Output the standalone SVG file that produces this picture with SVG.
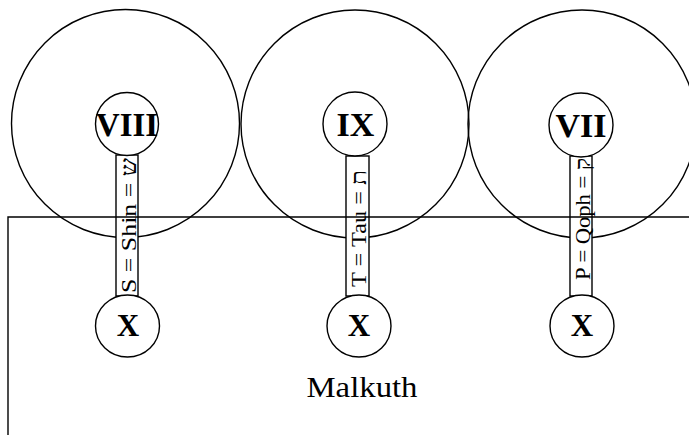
<svg xmlns="http://www.w3.org/2000/svg" width="689" height="435" viewBox="0 0 689 435">
<style>
.big{fill:none;stroke:#000;stroke-width:1.4}
.node{fill:#fff;stroke:#000;stroke-width:1.4}
.stem{fill:#fff;stroke:#000;stroke-width:1.4}
.frame{fill:none;stroke:#000;stroke-width:1.4}
.num{font-family:"Liberation Serif","Times New Roman",serif;font-weight:bold;font-size:34px;text-anchor:middle;fill:#000}
.x{font-family:"Liberation Serif","Times New Roman",serif;font-weight:bold;font-size:31px;text-anchor:middle;fill:#000}
.path{font-family:"Liberation Serif","DejaVu Serif",serif;font-size:22px;text-anchor:middle;fill:#000}
.title{font-family:"Liberation Serif","Times New Roman",serif;font-size:30px;text-anchor:middle;fill:#000}
</style>
<rect width="689" height="435" fill="#fff"/>
<g id="spheres">
<circle class="big" cx="125.5" cy="123.5" r="114"/>
<circle class="big" cx="355" cy="124" r="114"/>
<circle class="big" cx="582" cy="124" r="114"/>
</g>
<g id="connectors">
<rect class="stem" x="116" y="155" width="22" height="141"/>
<rect class="stem" x="346" y="156" width="23" height="140"/>
<rect class="stem" x="570" y="156" width="22" height="140"/>
</g>
<g id="malkuth">
<path class="frame" d="M689 217 H8 V435"/>
<text class="title" x="362" y="397" textLength="111" lengthAdjust="spacingAndGlyphs">Malkuth</text>
</g>
<g id="path-labels">
<text class="path" transform="translate(135.5,225.5) rotate(-90)" textLength="135" lengthAdjust="spacingAndGlyphs">S = Shin = ש</text>
<text class="path" transform="translate(365.5,228.5) rotate(-90)" textLength="117" lengthAdjust="spacingAndGlyphs">T = Tau = ת</text>
<text class="path" transform="translate(589.5,219) rotate(-90)" textLength="122" lengthAdjust="spacingAndGlyphs">P = Qoph = ק</text>
</g>
<g id="node-viii">
<circle class="node" cx="127" cy="124" r="31.5"/>
<text class="num" x="127" y="136" textLength="62" lengthAdjust="spacingAndGlyphs">VIII</text>
</g>
<g id="node-ix">
<circle class="node" cx="355" cy="124" r="32"/>
<text class="num" x="355.5" y="136">IX</text>
</g>
<g id="node-vii">
<circle class="node" cx="581" cy="125" r="32"/>
<text class="num" x="581" y="137">VII</text>
</g>
<g id="node-x1">
<ellipse class="node" cx="127.5" cy="326" rx="32" ry="31"/>
<text class="x" x="128" y="336">X</text>
</g>
<g id="node-x2">
<ellipse class="node" cx="359" cy="326" rx="32" ry="31"/>
<text class="x" x="359" y="336">X</text>
</g>
<g id="node-x3">
<ellipse class="node" cx="582" cy="326" rx="32" ry="31"/>
<text class="x" x="582" y="336">X</text>
</g>
</svg>
